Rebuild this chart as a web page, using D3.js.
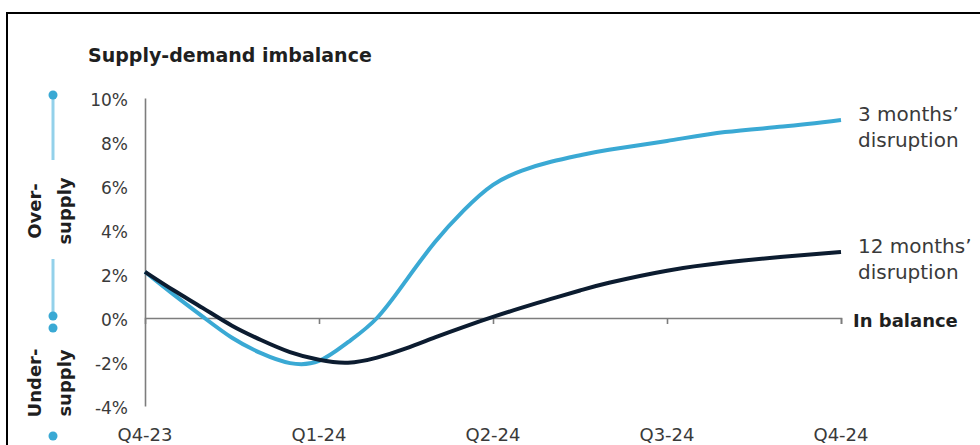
<!DOCTYPE html>
<html>
<head>
<meta charset="utf-8">
<script src="https://cdn.jsdelivr.net/npm/d3@7"></script>
<style>
  html, body { margin: 0; padding: 0; background: #fff; }
  svg { display: block; font-family: "DejaVu Sans", sans-serif; }
</style>
</head>
<body>
<svg id="chart" width="980" height="445"></svg>
<script>
// Quarter labels along the time axis (month offsets from Q4-23)
const quarterLabels = ["Q4-23", "Q1-24", "Q2-24", "Q3-24", "Q4-24"];
const quarterMonths = [0, 3, 6, 9, 12];

// Y axis ticks (per cent)
const yTicks = [-4, -2, 0, 2, 4, 6, 8, 10];

// Sample months shared by both scenarios
const months = [0, 0.5, 1, 1.5, 2, 2.5, 3, 3.5, 4, 4.5, 5, 5.5, 6, 6.5, 7, 7.5, 8, 9, 10, 11, 12];

// Supply-demand imbalance, % — 3 months' disruption
const threeMonths = [2.1, 1.05, 0.05, -0.9, -1.6, -2.05, -1.95, -1.1, 0.0, 1.7, 3.45, 4.9, 6.05, 6.7, 7.1, 7.4, 7.65, 8.05, 8.45, 8.7, 9.0];

// Supply-demand imbalance, % — 12 months' disruption
const twelveMonths = [2.1, 1.25, 0.45, -0.35, -1.0, -1.55, -1.9, -2.03, -1.8, -1.38, -0.88, -0.4, 0.05, 0.47, 0.87, 1.25, 1.6, 2.15, 2.52, 2.78, 3.0];

const seriesNames = [["3 months\u2019", "disruption"], ["12 months\u2019", "disruption"]];

const BLUE = "#3aa9d4";
const NAVY = "#0c1c30";
const LIGHT_BLUE = "#93d1ea";
const AXIS = "#7d7d7d";
const TEXT = "#3a3a3a";

const svg = d3.select("#chart");

// Frame
svg.append("rect")
  .attr("x", 7).attr("y", 13)
  .attr("width", 1000).attr("height", 500)
  .attr("fill", "none").attr("stroke", "#000").attr("stroke-width", 2);

// Title
svg.append("text")
  .attr("x", 88).attr("y", 62)
  .attr("font-size", 19).attr("font-weight", "bold")
  .attr("fill", "#1f1f1f")
  .text("Supply-demand imbalance");

const x = d3.scaleLinear().domain([0, 12]).range([145, 841]);
const y = d3.scaleLinear().domain([-4, 10]).range([406, 98]);

// Y axis: plain vertical rule with labels, no tick marks
const yAxis = svg.append("g")
  .attr("transform", `translate(${x(0)},0)`)
  .call(d3.axisLeft(y).tickValues(yTicks).tickSize(0).tickPadding(17)
    .tickFormat(d => d + "%"));
yAxis.select(".domain").attr("stroke", AXIS).attr("stroke-width", 1.6);
yAxis.selectAll("text")
  .attr("font-family", "DejaVu Sans").attr("font-size", 17)
  .attr("fill", TEXT).attr("dy", "0.42em");

// X axis along the zero line
const xAxis = svg.append("g")
  .attr("transform", `translate(0,${y(0)})`)
  .call(d3.axisBottom(x).tickValues(quarterMonths).tickSize(6).tickSizeOuter(6)
    .tickFormat(() => ""));
xAxis.select(".domain").attr("stroke", AXIS).attr("stroke-width", 1.6);
xAxis.selectAll(".tick line").attr("stroke", AXIS).attr("stroke-width", 1.6)
  .filter(d => d === 0).remove();

// Quarter labels at the bottom
svg.append("g").selectAll("text")
  .data(quarterMonths)
  .join("text")
  .attr("x", d => x(d)).attr("y", 441)
  .attr("text-anchor", "middle")
  .attr("font-size", 18).attr("fill", TEXT)
  .text((d, i) => quarterLabels[i]);

// Lines
const line = d3.line()
  .x(d => x(d[0]))
  .y(d => y(d[1]))
  .curve(d3.curveNatural);

const seriesData = [
  { values: threeMonths, color: BLUE },
  { values: twelveMonths, color: NAVY }
];

seriesData.forEach((s, i) => {
  const pts = months.map((m, j) => [m, s.values[j]]);
  svg.append("path")
    .datum(pts)
    .attr("d", line)
    .attr("fill", "none")
    .attr("stroke", s.color)
    .attr("stroke-width", 4)
    .attr("stroke-linecap", "butt");

  const last = s.values[s.values.length - 1];
  const lbl = svg.append("text")
    .attr("x", 858).attr("y", y(last) + 1)
    .attr("font-size", 20).attr("fill", TEXT);
  seriesNames[i].forEach((t, k) => {
    lbl.append("tspan").attr("x", 858).attr("dy", k === 0 ? 0 : 26).text(t);
  });
});

// Zero-line label
svg.append("text")
  .attr("x", 853).attr("y", y(0) + 9)
  .attr("font-size", 18).attr("font-weight", "bold").attr("fill", "#1f1f1f")
  .text("In balance");

// Over-/under-supply guide on the left
const gx = 53;
const guide = svg.append("g");
guide.append("line")
  .attr("x1", gx).attr("x2", gx).attr("y1", y(10) - 3).attr("y2", 160)
  .attr("stroke", LIGHT_BLUE).attr("stroke-width", 3);
guide.append("line")
  .attr("x1", gx).attr("x2", gx).attr("y1", 259).attr("y2", y(0) - 2)
  .attr("stroke", LIGHT_BLUE).attr("stroke-width", 3);
[y(10) - 3, y(0) - 2, y(0) + 10, 436].forEach(cy => {
  guide.append("circle").attr("cx", gx).attr("cy", cy).attr("r", 4.5).attr("fill", BLUE);
});

function rotatedLabel(cy, lines) {
  const t = guide.append("text")
    .attr("transform", `translate(0,${cy}) rotate(-90)`)
    .attr("text-anchor", "middle")
    .attr("font-size", 18).attr("font-weight", "bold").attr("fill", "#1f1f1f");
  t.append("tspan").attr("x", 0).attr("y", 41).text(lines[0]);
  t.append("tspan").attr("x", 0).attr("y", 71).text(lines[1]);
}
rotatedLabel(211, ["Over-", "supply"]);
rotatedLabel(383, ["Under-", "supply"]);
</script>
</body>
</html>
